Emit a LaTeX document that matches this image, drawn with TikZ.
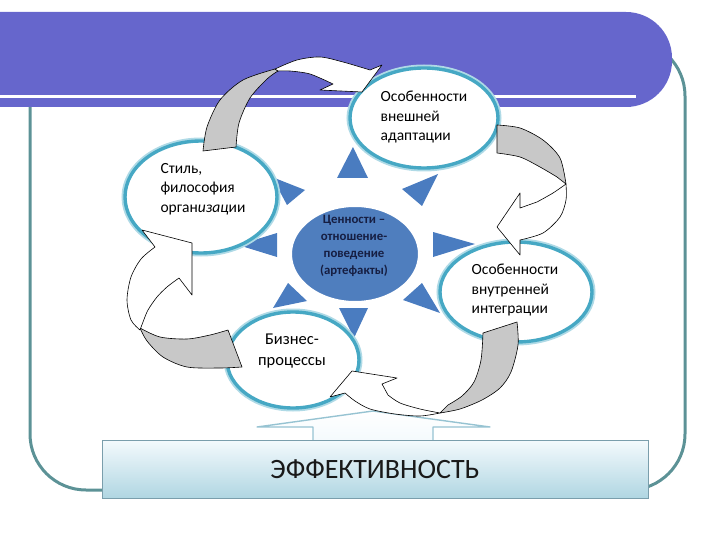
\documentclass[tikz,border=0pt]{standalone}
\usepackage{fontspec}
\setmainfont{Carlito}
\usetikzlibrary{shapes.geometric}
\definecolor{bandblue}{RGB}{102,102,204}
\definecolor{framec}{RGB}{92,146,150}
\definecolor{aqua}{RGB}{70,168,196}
\definecolor{aqualight}{RGB}{175,218,230}
\definecolor{triblue}{RGB}{74,124,192}
\definecolor{centerblue}{RGB}{79,126,190}
\definecolor{ctext}{RGB}{22,30,66}
\definecolor{arrgray}{RGB}{200,200,200}
\definecolor{boxtop}{RGB}{244,250,253}
\definecolor{boxbot}{RGB}{176,214,226}
\definecolor{boxborder}{RGB}{122,158,172}
\definecolor{uparrline}{RGB}{150,195,210}
\begin{document}
\begin{tikzpicture}[x=1pt,y=-1pt,
  oval/.style={ellipse, draw=aqua, line width=3.4pt, fill=white,
    preaction={draw=aqualight, line width=7pt}, inner sep=0pt},
  lbl/.style={align=left, inner sep=0pt, text=black,
    font=\fontsize{15.5}{19.5}\selectfont},
  clbl/.style={align=center, inner sep=0pt, text=black,
    font=\fontsize{16.5}{21}\selectfont},
  tri/.style={fill=triblue},
  garr/.style={fill=arrgray, draw=black, line width=0.6pt, line join=round},
  warr/.style={fill=white, draw=black, line width=0.6pt, line join=round},
  effbox/.style={rectangle, draw=boxborder, line width=0.8pt,
    top color=boxtop, bottom color=boxbot, inner sep=0pt,
    font=\fontsize{28}{32}\selectfont, text=black!90}
]
\useasboundingbox (0,0) rectangle (720,540);

% frame
\draw[framec, line width=3pt, rounded corners=56pt] (30,40) rectangle (685,490);
% band
\fill[bandblue, rounded corners=46pt] (-80,12) rectangle (672,107);
\fill[white] (-5,95) rectangle (636,98);

% efficiency up arrow and box
\shadedraw[top color=white, bottom color=boxtop, draw=uparrline, line width=1.4pt, line join=round]
  (313,441) -- (313,427) -- (257,427) -- (373,411) -- (490,427) -- (433,427) -- (433,441);
\node[effbox, minimum width=546pt, minimum height=58pt] (eff) at (375,469) {ЭФФЕКТИВНОСТЬ};

% triangles
\fill[tri] (337,178) -- (368,178) -- (353,147) -- cycle;
\fill[tri] (402,189) -- (422,206) -- (438,174) -- cycle;
\fill[tri] (433,232) -- (433,257) -- (475,244) -- cycle;
\fill[tri] (403,300) -- (422,283) -- (440,313) -- cycle;
\fill[tri] (339,308) -- (368,308) -- (354,338) -- cycle;
\fill[tri] (288,283) -- (307,301) -- (273,308) -- cycle;
\fill[tri] (277,233) -- (277,257) -- (238,245) -- cycle;
\fill[tri] (305,190) -- (287,205) -- (272,177) -- cycle;

% center ellipse
\node[ellipse, fill=centerblue, draw=white, line width=2pt, minimum width=128pt, minimum height=96pt, inner sep=0pt] (core) at (355,254) {};
\node[align=center, inner sep=0pt, text=ctext, font=\bfseries\fontsize{12.8}{17}\selectfont] (coreT) at (354,246)
  {Ценности –\\отношение-\\поведение\\(артефакты)};

% outer ellipses
\node[oval, minimum width=148pt, minimum height=100pt] (ext) at (424,118) {};
\node[oval, minimum width=152pt, minimum height=112pt] (style) at (201,197) {};
\node[oval, minimum width=152pt, minimum height=100pt] (intg) at (516,292) {};
\node[oval, minimum width=132pt, minimum height=96pt] (biz) at (293,360) {};

% curved arrow: style -> ext
\filldraw[garr] plot[smooth] coordinates {(203,151) (207,127) (220,100) (243,80) (275,69)}
  -- plot[smooth] coordinates {(278,71) (267,79) (250,98) (239,123) (236,147)} -- cycle;
\filldraw[warr] plot[smooth] coordinates {(275,69) (297,60) (320,57) (343,62) (370,70)}
  -- (382,65) -- (362,92) -- (320,90)
  -- plot[smooth] coordinates {(333,84) (310,74) (290,71) (278,71)} -- cycle;

% curved arrow: ext -> intg
\filldraw[garr] plot[smooth] coordinates {(497,125) (520,128) (543,140) (560,158) (566,184)}
  -- plot[smooth] coordinates {(557,177) (540,167) (520,157) (497,153)} -- cycle;
\filldraw[warr] plot[smooth] coordinates {(566,184) (566,200) (560,217) (543,233) (520,240)}
  -- (520,255) -- (497,227) -- (520,193) -- (520,208)
  -- plot[smooth] coordinates {(537,202) (553,193) (566,184)} -- cycle;

% curved arrow: intg -> biz
\filldraw[garr] plot[smooth] coordinates {(517,322) (518,345) (511,372) (500,388) (482,400) (460,409) (440,413)}
  -- plot[smooth] coordinates {(448,405) (462,396) (474,382) (481,360) (483,333)} -- cycle;
\filldraw[warr] plot[smooth] coordinates {(440,413) (420,416) (395,414) (370,409) (355,401) (345,393)}
  -- (330,397) -- (352,371) -- (397,378) -- (382,384)
  -- plot[smooth] coordinates {(388,395) (400,403) (420,409) (440,413)} -- cycle;

% curved arrow: biz -> style
\filldraw[garr] plot[smooth] coordinates {(140,328) (160,337) (187,339) (210,335) (228,330)}
  -- (242,367) -- plot[smooth] coordinates {(242,367) (220,368) (187,367) (163,357) (147,341) (140,328)} -- cycle;
\filldraw[warr] plot[smooth] coordinates {(140,330) (131,320) (127,300) (131,277) (141,259) (155,247)}
  -- (142,230) -- (192,243) -- (192,295) -- (179,278)
  -- plot[smooth] coordinates {(179,278) (167,287) (157,297) (148,310) (143,322) (140,330)} -- cycle;

% labels
\node[lbl] (extT) at (424,117) {Особенности\\внешней\\адаптации};
\node[lbl] (styleT) at (203,189) {Стиль,\\философия\\орган\textit{изац}ии};
\node[lbl] (intgT) at (515,290) {Особенности\\внутренней\\интеграции};
\node[clbl] (bizT) at (292,351) {Бизнес-\\процессы};
\end{tikzpicture}
\end{document}
